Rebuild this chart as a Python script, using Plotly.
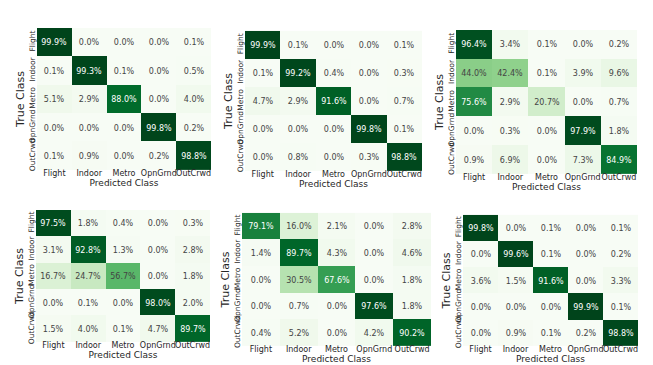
import plotly.graph_objects as go

classes = ["Flight", "Indoor", "Metro", "OpnGrnd", "OutCrwd"]

cm_a = [[99.9, 0.0, 0.0, 0.0, 0.1],
        [0.1, 99.3, 0.1, 0.0, 0.5],
        [5.1, 2.9, 88.0, 0.0, 4.0],
        [0.0, 0.0, 0.0, 99.8, 0.2],
        [0.1, 0.9, 0.0, 0.2, 98.8]]

cm_b = [[99.9, 0.1, 0.0, 0.0, 0.1],
        [0.1, 99.2, 0.4, 0.0, 0.3],
        [4.7, 2.9, 91.6, 0.0, 0.7],
        [0.0, 0.0, 0.0, 99.8, 0.1],
        [0.0, 0.8, 0.0, 0.3, 98.8]]

cm_c = [[96.4, 3.4, 0.1, 0.0, 0.2],
        [44.0, 42.4, 0.1, 3.9, 9.6],
        [75.6, 2.9, 20.7, 0.0, 0.7],
        [0.0, 0.3, 0.0, 97.9, 1.8],
        [0.9, 6.9, 0.0, 7.3, 84.9]]

cm_d = [[97.5, 1.8, 0.4, 0.0, 0.3],
        [3.1, 92.8, 1.3, 0.0, 2.8],
        [16.7, 24.7, 56.7, 0.0, 1.8],
        [0.0, 0.1, 0.0, 98.0, 2.0],
        [1.5, 4.0, 0.1, 4.7, 89.7]]

cm_e = [[79.1, 16.0, 2.1, 0.0, 2.8],
        [1.4, 89.7, 4.3, 0.0, 4.6],
        [0.0, 30.5, 67.6, 0.0, 1.8],
        [0.0, 0.7, 0.0, 97.6, 1.8],
        [0.4, 5.2, 0.0, 4.2, 90.2]]

cm_f = [[99.8, 0.0, 0.1, 0.0, 0.1],
        [0.0, 99.6, 0.1, 0.0, 0.2],
        [3.6, 1.5, 91.6, 0.0, 3.3],
        [0.0, 0.0, 0.0, 99.9, 0.1],
        [0.0, 0.9, 0.1, 0.2, 98.8]]

matrices = [cm_a, cm_b, cm_c, cm_d, cm_e, cm_f]

W, H = 653, 365
# panel boxes in pixels: left, right, top, bottom
boxes = [(29, 203, 20, 163), (237, 414, 23, 164), (448, 629, 22, 167),
         (28, 202, 203, 336), (234, 423, 206, 340), (455, 630, 208, 340)]

FONT = "DejaVu Sans"
fig = go.Figure()
layout = {}

for i, (cm, (l, r, t, b)) in enumerate(zip(matrices, boxes), start=1):
    sx = "" if i == 1 else str(i)
    fig.add_trace(go.Heatmap(
        z=cm, x=classes, y=classes,
        colorscale="Greens", zmin=0, zmax=100, showscale=False,
        texttemplate="%{z:.1f}%", textfont=dict(family=FONT, size=8),
        xaxis="x" + sx, yaxis="y" + sx, hoverinfo="skip",
    ))
    layout["xaxis" + sx] = dict(
        domain=[l / W, r / W], anchor="y" + sx, showgrid=False, zeroline=False,
        ticks="", ticklen=0, tickangle=0, ticklabelstandoff=-3,
        tickfont=dict(family=FONT, size=8, color="#262626"),
        title=dict(text="Predicted Class", standoff=0,
                   font=dict(family=FONT, size=9, color="#262626")),
    )
    layout["yaxis" + sx] = dict(
        domain=[1 - b / H, 1 - t / H], anchor="x" + sx, showgrid=False, zeroline=False,
        autorange="reversed", ticks="", ticklen=0, tickangle=-90,
        tickfont=dict(family=FONT, size=7.5, color="#262626"),
        title=dict(text="True Class", standoff=0,
                   font=dict(family=FONT, size=11, color="#262626")),
    )

fig.update_layout(**layout)
fig.update_layout(width=W, height=H, margin=dict(l=0, r=0, t=0, b=0),
                  plot_bgcolor="white", paper_bgcolor="white",
                  font=dict(family=FONT))
fig.write_html("out.html")
